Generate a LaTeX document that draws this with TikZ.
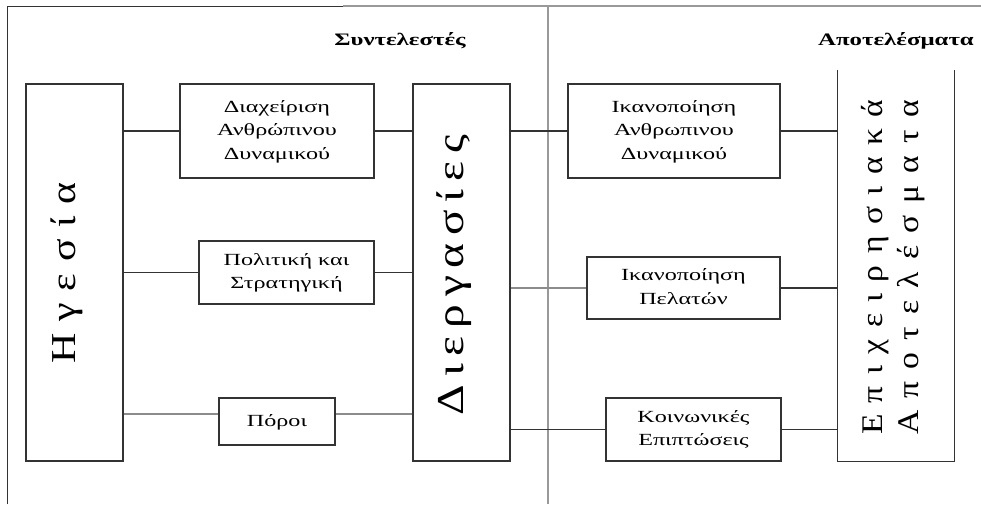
\documentclass[tikz,border=0pt]{standalone}
\usepackage{fontspec}
\setmainfont{Liberation Serif}
\usepackage{graphicx}

% horizontally widened text for the boxes and the headings
\newcommand{\boxtext}[1]{\scalebox{1.42}[1]{\fontsize{17}{23.5}\selectfont\begin{tabular}{@{}c@{}}#1\end{tabular}}}
\newcommand{\headtext}[1]{\scalebox{1.42}[1]{\fontsize{17.5}{21}\selectfont\bfseries #1}}

\begin{document}
\begin{tikzpicture}[x=1pt,y=-1pt,
  box/.style={draw=black!80, line width=1.2pt, inner sep=0pt},
  edge/.style={draw=black!80, line width=1.2pt},
  link/.style={draw=black!80, line width=1.1pt},
  faint/.style={draw=black!45, line width=1.2pt},
  rule/.style={draw=black!40, line width=2pt},
  vtext/.style={rotate=90, anchor=base, inner sep=0pt}
]
\useasboundingbox (0,0) rectangle (981,504);

% outer frame and middle divider
\coordinate (tl) at (7,6);
\coordinate (tm) at (343,6);
\coordinate (tr) at (981,6);
\coordinate (bl) at (7,504);
\coordinate (dtop) at (548,6);
\coordinate (dbot) at (548,504);
\draw[edge, line width=1pt] (bl) -- (tl) -- (tm);
\draw[draw=black!40, line width=1.6pt] (tm) -- (tr);
\draw[rule] (dtop) -- (dbot);

% headings
\node[anchor=base, inner sep=0pt] (facthead) at (400,45) {\headtext{Συντελεστές}};
\node[anchor=base, inner sep=0pt] (reshead) at (896,45) {\headtext{Αποτελέσματα}};

% left column: letters spread evenly along the box, glyphs widened along the line
\node[box, minimum width=97pt, minimum height=377pt] (lead) at (74.5,272.5) {};
\node[vtext, font=\fontsize{35}{35}\selectfont] (leadlbl) at (75,273)
  {\scalebox{1.2}[1]{\makebox[151pt][s]{Η\hfill γ\hfill ε\hfill σ\hfill ί\hfill α}}};

% enablers
\node[box, minimum width=194pt, minimum height=94pt] (hr) at (277,131)
  {\boxtext{Διαχείριση\\Ανθρώπινου\\Δυναμικού}};
\node[box, minimum width=175pt, minimum height=63pt] (pol) at (286.5,272.5)
  {\boxtext{Πολιτική και\\Στρατηγική}};
\node[box, minimum width=116pt, minimum height=47pt] (res) at (277,421.5)
  {\boxtext{Πόροι}};

% processes
\node[box, minimum width=97pt, minimum height=377pt] (proc) at (461.5,272.5) {};
\node[vtext, font=\fontsize{38}{38}\selectfont] (proclbl) at (463,275)
  {\scalebox{1.25}[1]{\makebox[224pt][s]{Δ\hfill ι\hfill ε\hfill ρ\hfill γ\hfill α\hfill σ\hfill ί\hfill ε\hfill ς}}};

% results
\node[box, minimum width=212pt, minimum height=94pt] (emp) at (674,131)
  {\boxtext{Ικανοποίηση\\Ανθρωπινου\\Δυναμικού}};
\node[box, minimum width=193pt, minimum height=62pt] (cust) at (683.5,288)
  {\boxtext{Ικανοποίηση\\Πελατών}};
\node[box, minimum width=175pt, minimum height=63pt] (soc) at (693.5,429.5)
  {\boxtext{Κοινωνικές\\Επιπτώσεις}};

% business results (open at the top)
\node[inner sep=0pt, minimum width=116pt, minimum height=391pt] (biz) at (896,265.5) {};
\draw[edge] (biz.north west) -- (biz.south west) -- (biz.south east) -- (biz.north east);
\node[vtext, font=\fontsize{30}{30}\selectfont] (bizlblA) at (882,267.5)
  {\scalebox{1.12}[1]{\makebox[299pt][s]{Ε\hfill π\hfill ι\hfill χ\hfill ε\hfill ι\hfill ρ\hfill η\hfill σ\hfill ι\hfill α\hfill κ\hfill ά}}};
\node[vtext, font=\fontsize{30}{30}\selectfont] (bizlblB) at (918,267.5)
  {\scalebox{1.12}[1]{\makebox[299pt][s]{Α\hfill π\hfill ο\hfill τ\hfill ε\hfill λ\hfill έ\hfill σ\hfill μ\hfill α\hfill τ\hfill α}}};

% connectors: leadership -> enablers
\coordinate (resin) at ([yshift=7.5pt]res.west);
\coordinate (resout) at ([yshift=7.5pt]res.east);
\draw[link] (lead.east |- hr.west) -- (hr.west);
\draw[link] (lead.east |- pol.west) -- (pol.west);
\draw[faint] (lead.east |- resin) -- (resin);

% enablers -> processes
\draw[link] (hr.east) -- (proc.west |- hr.east);
\draw[link] (pol.east) -- (proc.west |- pol.east);
\draw[faint] (resout) -- (proc.west |- resout);

% processes -> results
\draw[link] (proc.east |- emp.west) -- (emp.west);
\draw[faint] (proc.east |- cust.west) -- (cust.west);
\draw[link] (proc.east |- soc.west) -- (soc.west);

% results -> business results
\draw[link] (emp.east) -- (biz.west |- emp.east);
\draw[link] (cust.east) -- (biz.west |- cust.east);
\draw[link] (soc.east) -- (biz.west |- soc.east);
\end{tikzpicture}
\end{document}
